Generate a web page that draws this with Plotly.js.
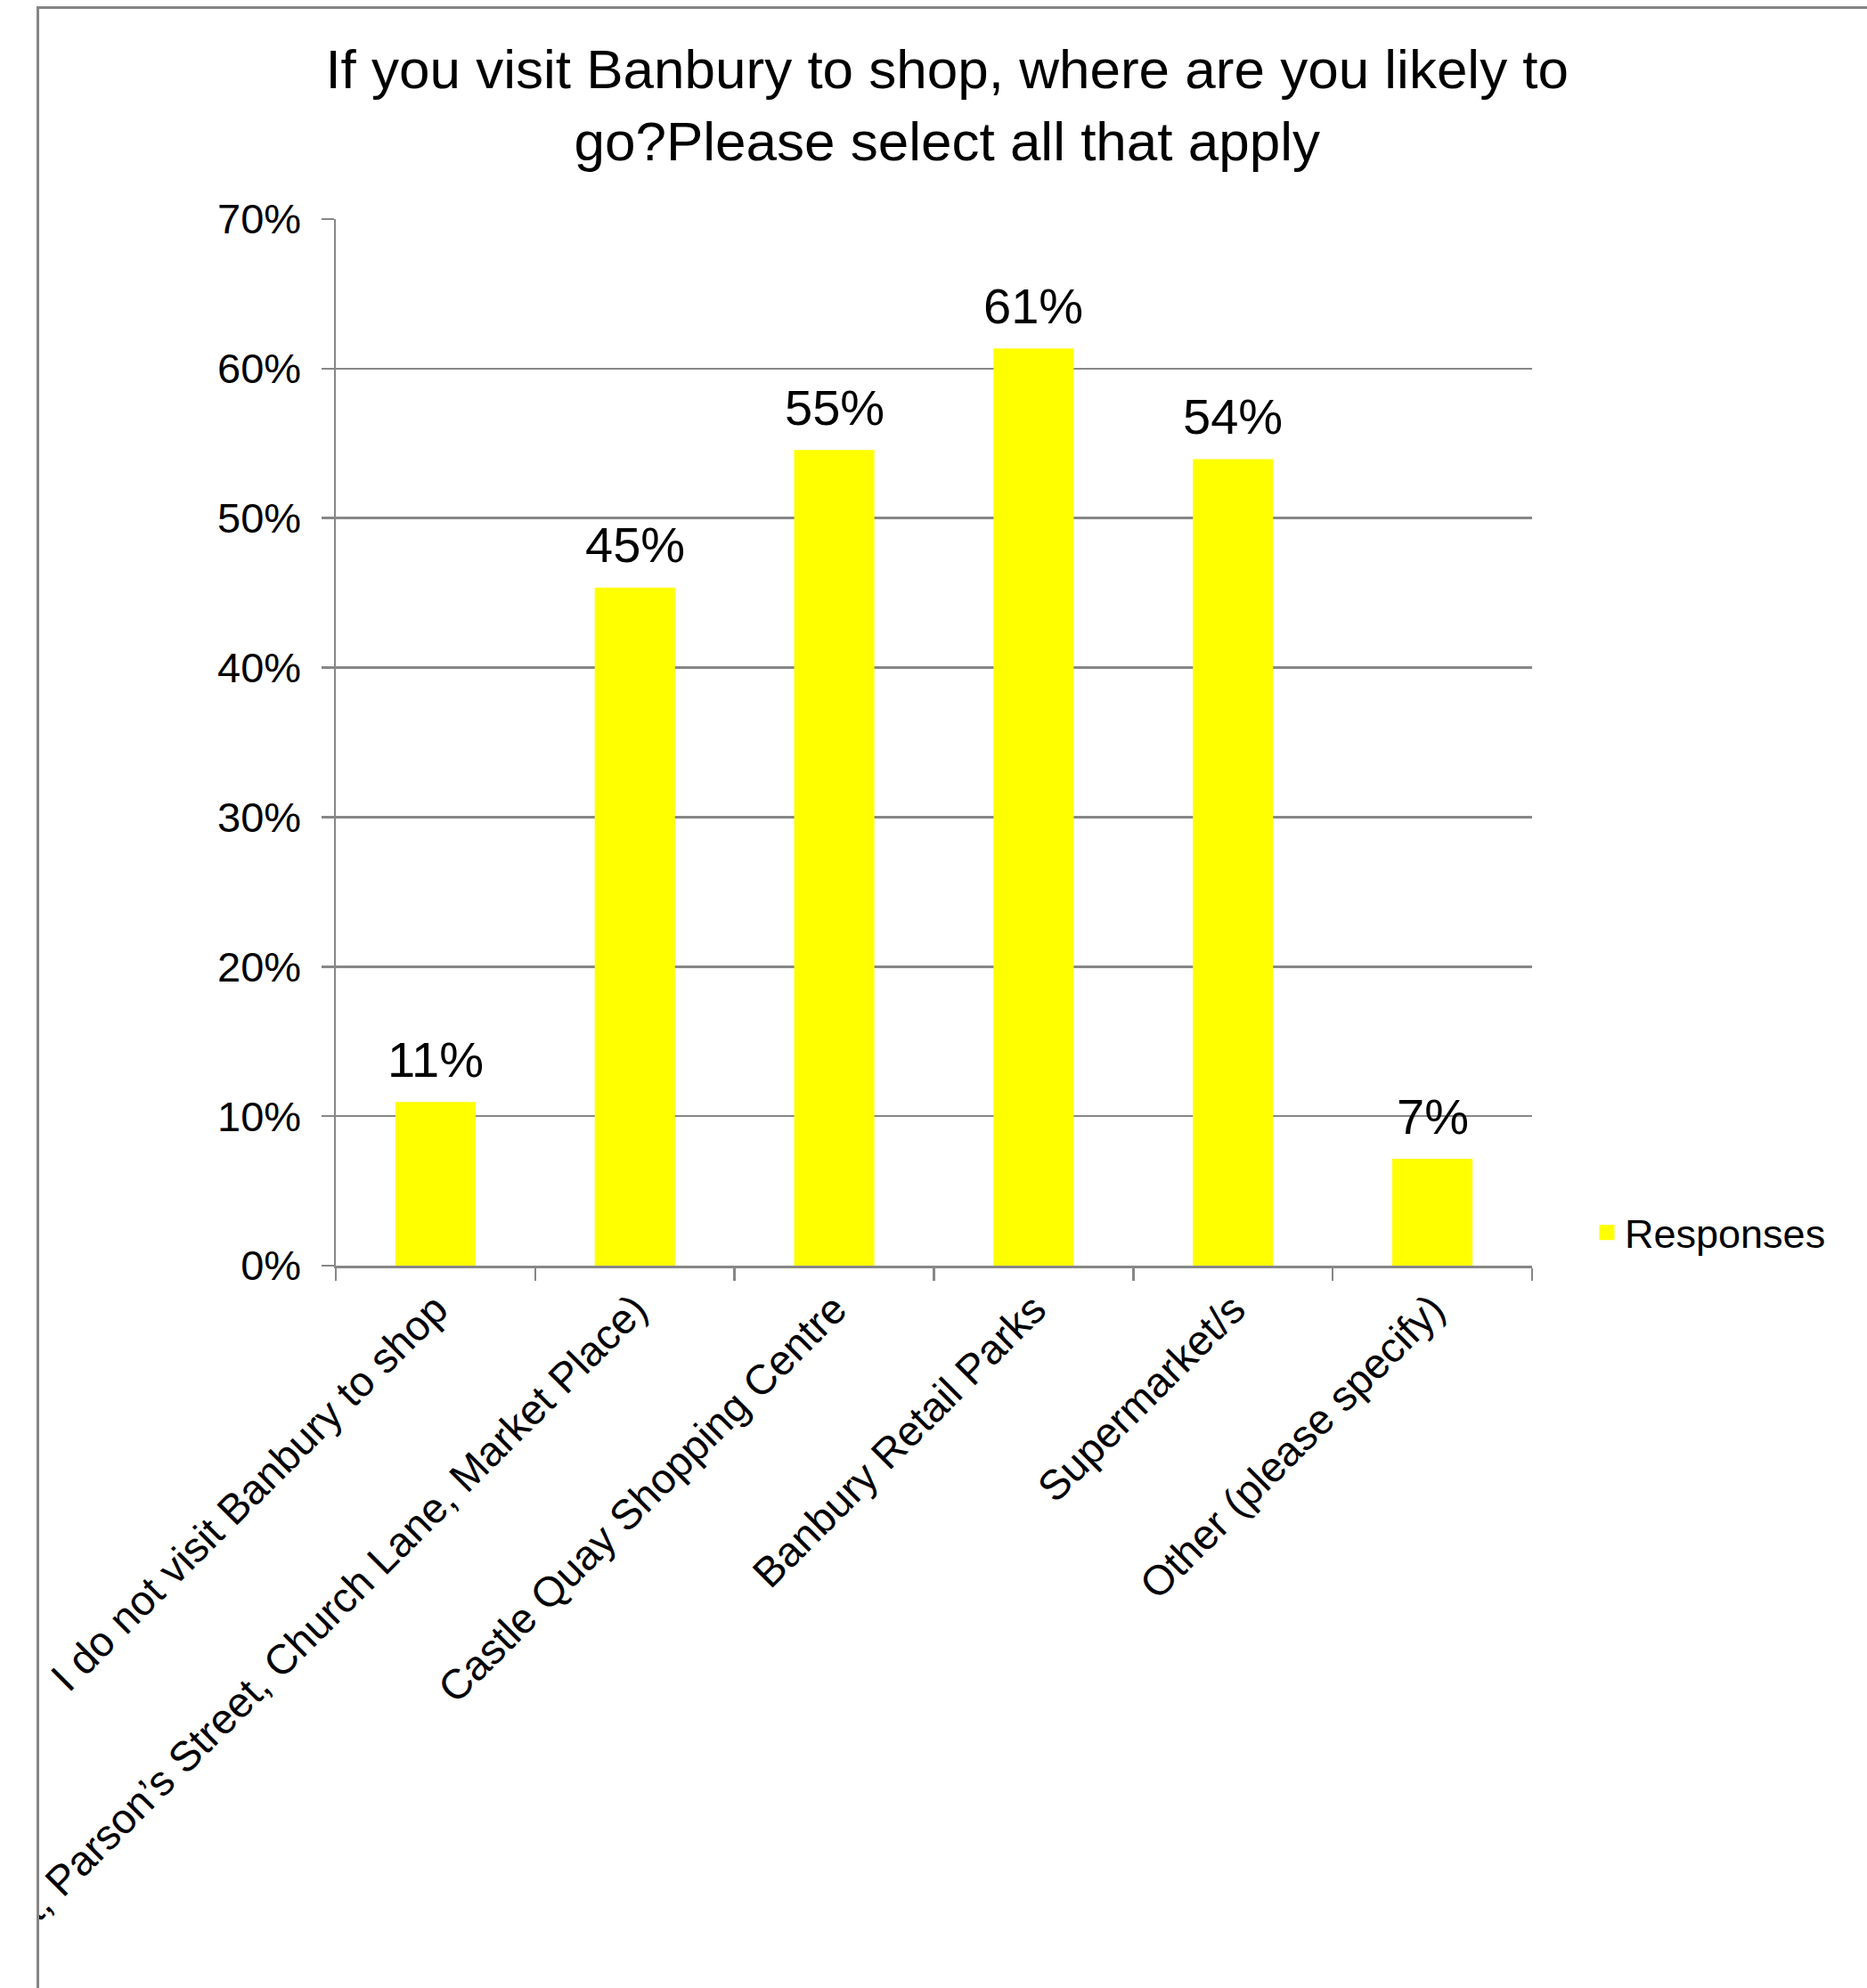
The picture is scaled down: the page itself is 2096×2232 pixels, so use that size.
<!DOCTYPE html>
<html>
<head>
<meta charset="utf-8">
<script src="https://cdn.plot.ly/plotly-3.0.1.min.js"></script>
<style>
  html, body { margin: 0; padding: 0; background: #ffffff; }
  #chart { width: 2096px; height: 2232px; }
</style>
</head>
<body>
<div id="chart"></div>
<script>
// ---- data ----
const categories = [
  "I do not visit Banbury to shop",
  "Town Centre (High Street, Parson\u2019s Street, Church Lane, Market Place)",
  "Castle Quay Shopping Centre",
  "Banbury Retail Parks",
  "Supermarket/s",
  "Other (please specify)"
];
const responses = [0.108, 0.452, 0.544, 0.612, 0.538, 0.070];
const valueLabels = ["11%", "45%", "55%", "61%", "54%", "7%"];
const yTickVals = [0, 0.1, 0.2, 0.3, 0.4, 0.5, 0.6, 0.7];
const yTickText = ["0%", "10%", "20%", "30%", "40%", "50%", "60%", "70%"];
const seriesName = "Responses";
const chartTitle = "If you visit Banbury to shop, where are you likely to<br>go?Please select all that apply";

// ---- styling ----
const FONT = "Liberation Sans, Arial, Helvetica, sans-serif";
const GRID = "#878787";
const W = 2096, H = 2232;
const M = { l: 377, r: 376, t: 246, b: 811 };
const plotW = W - M.l - M.r, plotH = H - M.t - M.b;
const px2x = px => (px - M.l) / plotW;
const px2y = py => (H - M.b - py) / plotH;

const trace = {
  type: "bar",
  x: categories,
  y: responses,
  name: seriesName,
  marker: { color: "#FFFF00", line: { width: 5, color: "#FFFF00" } },
  showlegend: true,
  hoverinfo: "x+y"
};

const annotations = categories.map((c, i) => ({
  x: c, y: responses[i], xref: "x", yref: "y",
  text: valueLabels[i], showarrow: false,
  xanchor: "center", yanchor: "bottom", yshift: 17,
  font: { family: FONT, size: 56, color: "#000000" }
}));

const shapes = [
  // white mask: the reference image is cropped at its left frame edge
  { type: "rect", xref: "paper", yref: "paper", layer: "above",
    x0: px2x(-20), x1: px2x(43), y0: px2y(2260), y1: px2y(-20),
    fillcolor: "#ffffff", line: { width: 0 } },
  // outer frame (runs off the right and bottom edges)
  { type: "rect", xref: "paper", yref: "paper", layer: "above",
    x0: px2x(42.5), x1: px2x(2110), y0: px2y(2260), y1: px2y(8.5),
    fillcolor: "rgba(0,0,0,0)", line: { color: "#858585", width: 3 } }
];

const layout = {
  width: W, height: H,
  margin: M,
  paper_bgcolor: "#ffffff",
  plot_bgcolor: "#ffffff",
  font: { family: FONT, color: "#000000", size: 46 },
  title: {
    text: chartTitle,
    font: { family: FONT, size: 62, color: "#000000" },
    x: 1071 / W, xanchor: "center",
    xref: "paper",
    y: 1 - 99 / H, yanchor: "top", yref: "container"
  },
  bargap: 0.62,
  xaxis: {
    type: "category",
    automargin: false,
    tickangle: -45,
    ticks: "outside", ticklen: 14, tickwidth: 2.5, tickcolor: GRID,
    tickson: "boundaries",
    showline: true, linecolor: GRID, linewidth: 2.5,
    showgrid: false,
    tickfont: { family: FONT, size: 47, color: "#000000" }
  },
  yaxis: {
    range: [0, 0.7],
    automargin: false,
    tickvals: yTickVals, ticktext: yTickText,
    ticks: "outside", ticklen: 14, tickwidth: 2.5, tickcolor: GRID,
    ticklabelstandoff: 13,
    showline: true, linecolor: GRID, linewidth: 2.5,
    showgrid: true, gridcolor: GRID, gridwidth: 2.5,
    zeroline: false,
    tickfont: { family: FONT, size: 47, color: "#000000" }
  },
  showlegend: true,
  legend: {
    x: px2x(1784), xanchor: "left",
    y: px2y(1384), yanchor: "middle",
    bgcolor: "rgba(0,0,0,0)",
    font: { family: FONT, size: 45, color: "#000000" }
  },
  annotations: annotations,
  shapes: shapes
};

Plotly.newPlot("chart", [trace], layout, { displayModeBar: false, staticPlot: true });
</script>
</body>
</html>
